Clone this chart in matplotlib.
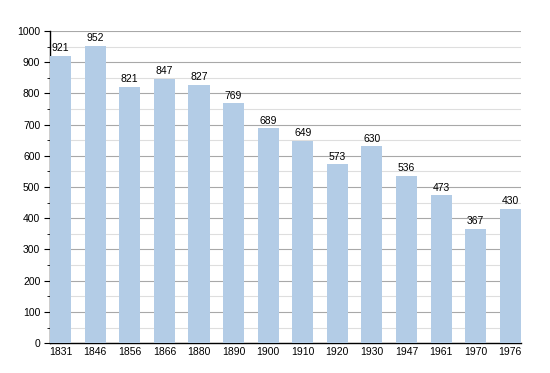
import numpy as np
import matplotlib.pyplot as plt
from matplotlib.ticker import MultipleLocator

years = ['1831', '1846', '1856', '1866', '1880', '1890', '1900',
         '1910', '1920', '1930', '1947', '1961', '1970', '1976']
population = [921, 952, 821, 847, 827, 769, 689, 649, 573, 630, 536, 473, 367, 430]

plt.rcParams['font.family'] = ['Liberation Sans', 'DejaVu Sans']

fig = plt.figure(figsize=(5.5, 3.73), dpi=100)
ax = fig.add_axes([0.091, 0.080, 0.856, 0.837])

x = np.arange(len(years))
width = 0.61
bars = ax.bar(x, population, width=width, color='#b3cce6', zorder=3)

for xi, v in zip(x, population):
    ax.text(xi, v + 8, str(v), ha='center', va='bottom', fontsize=7.5, zorder=4)

ax.set_xlim(-width / 2, len(years) - 1 + width / 2)
ax.set_ylim(0, 1000)
ax.set_xticks(x)
ax.set_xticklabels(years)
ax.yaxis.set_major_locator(MultipleLocator(100))
ax.yaxis.set_minor_locator(MultipleLocator(50))

ax.grid(axis='y', which='major', color='#a8a8a8', lw=0.8, zorder=0)
ax.grid(axis='y', which='minor', color='#dedede', lw=0.8, zorder=0)

for s in ['top', 'right']:
    ax.spines[s].set_visible(False)
ax.spines['left'].set_linewidth(1.0)
ax.spines['bottom'].set_linewidth(1.0)
ax.tick_params(axis='x', length=0, labelsize=7.5, pad=3)
ax.tick_params(axis='y', which='major', length=4, labelsize=7.5, pad=3)
ax.tick_params(axis='y', which='minor', length=2)

fig.savefig('out.png', dpi=100)
